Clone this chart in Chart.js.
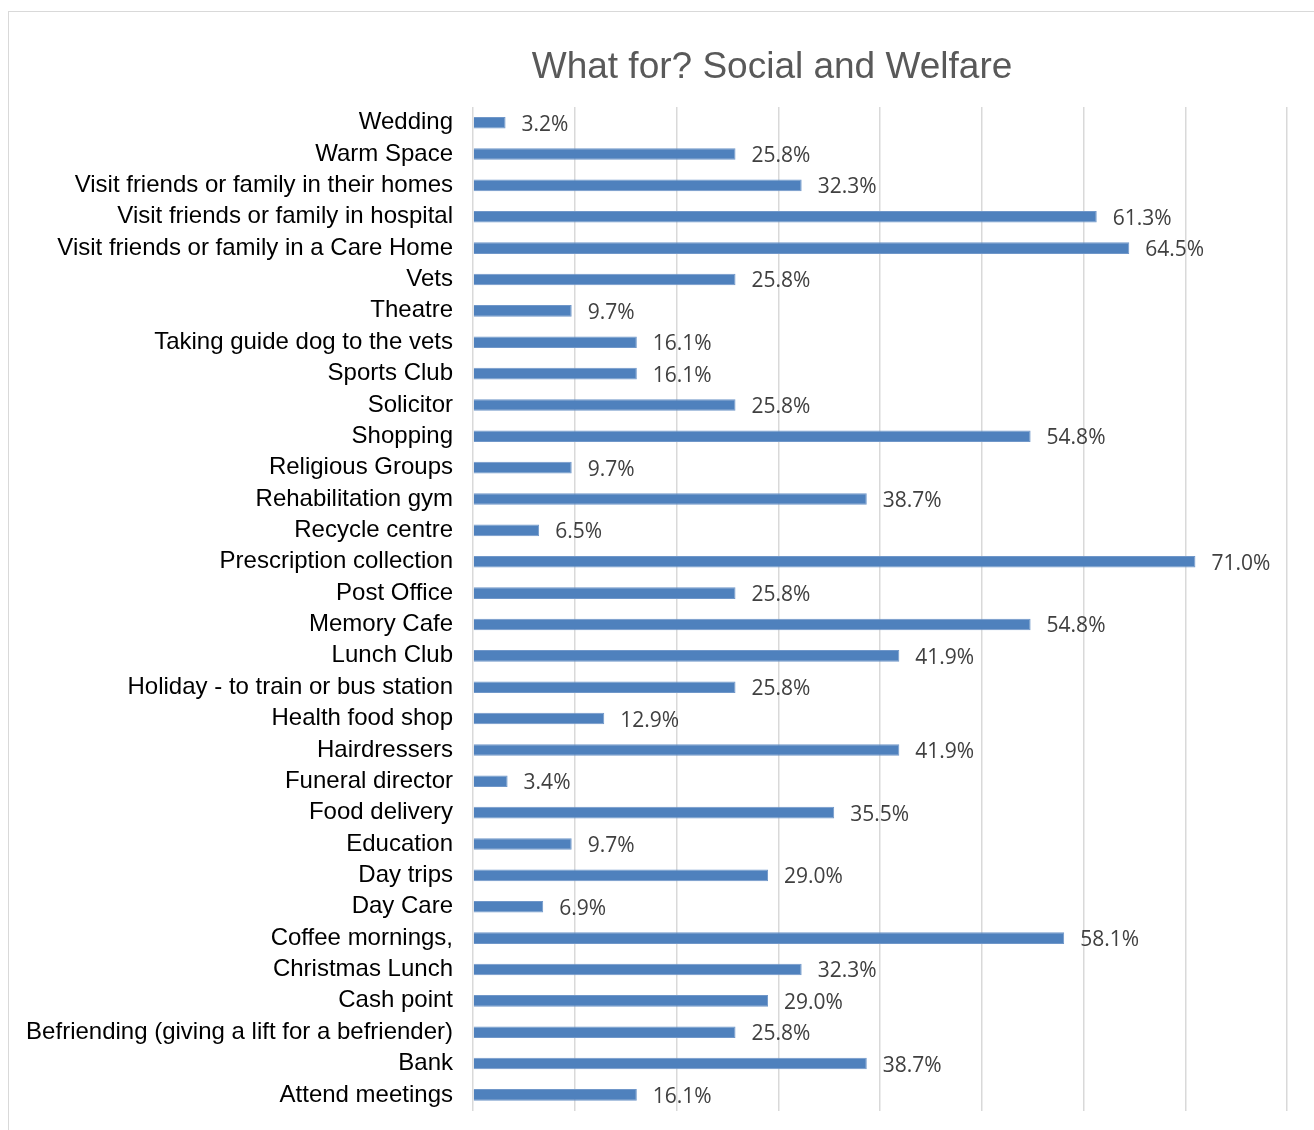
<!DOCTYPE html>
<html>
<head>
<meta charset="utf-8">
<title>What for? Social and Welfare</title>
<script src="https://cdn.jsdelivr.net/npm/chart.js@4"></script>
<style>
  html, body { margin: 0; background: #fff; overflow: hidden; }
  #frame {
    position: absolute; left: 8px; top: 11px;
    width: 1540px; height: 1140px;
    border-left: 1px solid #d9d9d9; border-top: 1px solid #d9d9d9;
  }
  #chart { position: absolute; left: 0; top: 0; }
</style>
</head>
<body>
<div id="frame">
  <canvas id="chart" width="1526" height="1125"></canvas>
</div>
<script>
// Survey answers, top to bottom as listed
const categories = [
  'Wedding', 'Warm Space', 'Visit friends or family in their homes',
  'Visit friends or family in hospital', 'Visit friends or family in a Care Home',
  'Vets', 'Theatre', 'Taking guide dog to the vets', 'Sports Club', 'Solicitor',
  'Shopping', 'Religious Groups', 'Rehabilitation gym', 'Recycle centre',
  'Prescription collection', 'Post Office', 'Memory Cafe', 'Lunch Club',
  'Holiday - to train or bus station', 'Health food shop', 'Hairdressers',
  'Funeral director', 'Food delivery', 'Education', 'Day trips', 'Day Care',
  'Coffee mornings,', 'Christmas Lunch', 'Cash point',
  'Befriending (giving a lift for a befriender)', 'Bank', 'Attend meetings'
];

// Percentage of respondents
const shares = [
  3.2, 25.8, 32.3, 61.3, 64.5, 25.8, 9.7, 16.1, 16.1, 25.8,
  54.8, 9.7, 38.7, 6.5, 71.0, 25.8, 54.8, 41.9, 25.8, 12.9,
  41.9, 3.4, 35.5, 9.7, 29.0, 6.9, 58.1, 32.3, 29.0, 25.8,
  38.7, 16.1
];

const axisMax = 80;
const axisStep = 10;
const chartTitle = 'What for? Social and Welfare';

// title centred on the whole canvas, and the value past the end of each bar
const annotate = {
  id: 'annotate',
  afterDatasetsDraw(chart) {
    const ctx = chart.ctx;
    const meta = chart.getDatasetMeta(0);
    ctx.save();
    ctx.font = '21px "Open Sans"';
    ctx.fillStyle = '#404040';
    ctx.textAlign = 'left';
    ctx.textBaseline = 'middle';
    meta.data.forEach((bar, i) => {
      ctx.fillText(shares[i].toFixed(1) + '%', bar.x + 16, bar.y + 2);
    });

    ctx.font = '37px "Liberation Sans", Arial, sans-serif';
    ctx.fillStyle = '#595959';
    ctx.textAlign = 'center';
    ctx.fillText(chartTitle, chart.width / 2, 56);
    ctx.restore();
  }
};

new Chart(document.getElementById('chart'), {
  type: 'bar',
  data: {
    labels: categories,
    datasets: [{
      data: shares,
      backgroundColor: '#4f81bd',
      borderColor: '#7097c9',
      borderWidth: 1,
      borderSkipped: 'left',
      barPercentage: 0.37,
      categoryPercentage: 1
    }]
  },
  options: {
    indexAxis: 'y',
    responsive: false,
    animation: false,
    layout: { padding: { left: 0, right: 248, top: 95, bottom: 0 } },
    plugins: {
      legend: { display: false },
      tooltip: { enabled: false },
      title: { display: false }
    },
    scales: {
      x: {
        min: 0,
        max: axisMax,
        ticks: { display: false, stepSize: axisStep },
        grid: { color: '#d9d9d9', lineWidth: 1.5, drawTicks: false },
        border: { display: false }
      },
      y: {
        afterFit(scale) { scale.width = 464; },
        grid: { display: false },
        border: { display: false },
        ticks: {
          autoSkip: false,
          padding: 12,
          color: '#000',
          font: { family: '"Liberation Sans", Arial, sans-serif', size: 24 }
        }
      }
    }
  },
  plugins: [annotate]
});
</script>
</body>
</html>
